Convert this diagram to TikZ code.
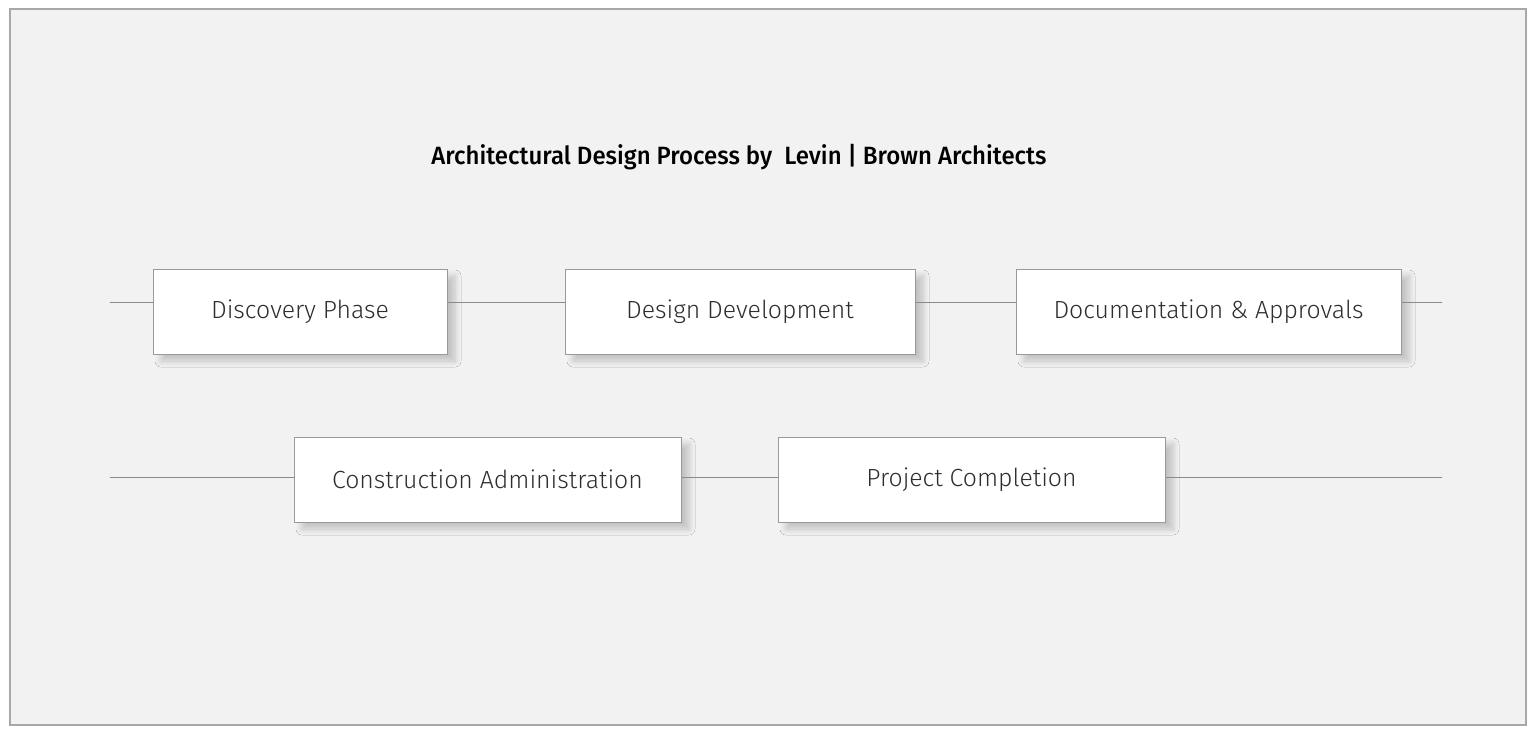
\documentclass[tikz,border=0pt]{standalone}
\usepackage{fontspec}
\setmainfont{Fira Sans}
\newfontfamily\boxfont[UprightFont={* Light}]{Fira Sans}
\newfontfamily\titlefont[FakeStretch=0.96, BoldFont={* Medium}]{Fira Sans}
\usetikzlibrary{shadows.blur}
\definecolor{bggray}{HTML}{F2F2F2}
\definecolor{framegray}{HTML}{A8A8A8}
\definecolor{boxline}{HTML}{999999}
\definecolor{linegray}{HTML}{8A8A8A}
\definecolor{textgray}{HTML}{2E2E2E}
\begin{document}
\begin{tikzpicture}[x=0.5pt, y=-0.5pt,
    phase/.style={draw=boxline, fill=white, line width=0.5pt, minimum height=42.5pt, inner sep=0pt,
      font=\boxfont\fontsize{12.4}{14}\selectfont, text=textgray,
      blur shadow={shadow xshift=4pt, shadow yshift=-3.5pt, shadow blur radius=3pt,
        shadow blur steps=8, shadow opacity=20}},
    link/.style={draw=linegray, line width=0.5pt}]
  \useasboundingbox (0,0) rectangle (1536,733);
  \draw[draw=framegray, fill=bggray, line width=1pt] (10,9) rectangle (1526,725);
  \node[font=\titlefont\bfseries\fontsize{12.5}{15}\selectfont, text=black] (title) at (739,157)
    {Architectural Design Process by\ \ Levin | Brown Architects};
  % first row
  \node[phase, minimum width=147pt] (disc) at (300,311.5) {Discovery Phase};
  \node[phase, minimum width=175pt] (dev) at (740,311.5) {Design Development};
  \node[phase, minimum width=192.5pt] (docu) at (1208.5,311.5) {Documentation \& Approvals};
  % second row
  \node[phase, minimum width=193.5pt] (cons) at (487.5,479.5) {Construction Administration};
  \node[phase, minimum width=193.5pt] (proj) at (971.5,479.5) {Project Completion};
  \coordinate (rowA-in) at (110,302);
  \coordinate (rowA-out) at (1442,302);
  \coordinate (rowB-in) at (110,477);
  \coordinate (rowB-out) at (1442,477);
  \draw[link] (rowA-in) -- (disc.west |- rowA-in);
  \draw[link] (disc.east |- rowA-in) -- (dev.west |- rowA-in);
  \draw[link] (dev.east |- rowA-in) -- (docu.west |- rowA-in);
  \draw[link] (docu.east |- rowA-in) -- (rowA-out);
  \draw[link] (rowB-in) -- (cons.west |- rowB-in);
  \draw[link] (cons.east |- rowB-in) -- (proj.west |- rowB-in);
  \draw[link] (proj.east |- rowB-in) -- (rowB-out);
\end{tikzpicture}
\end{document}
